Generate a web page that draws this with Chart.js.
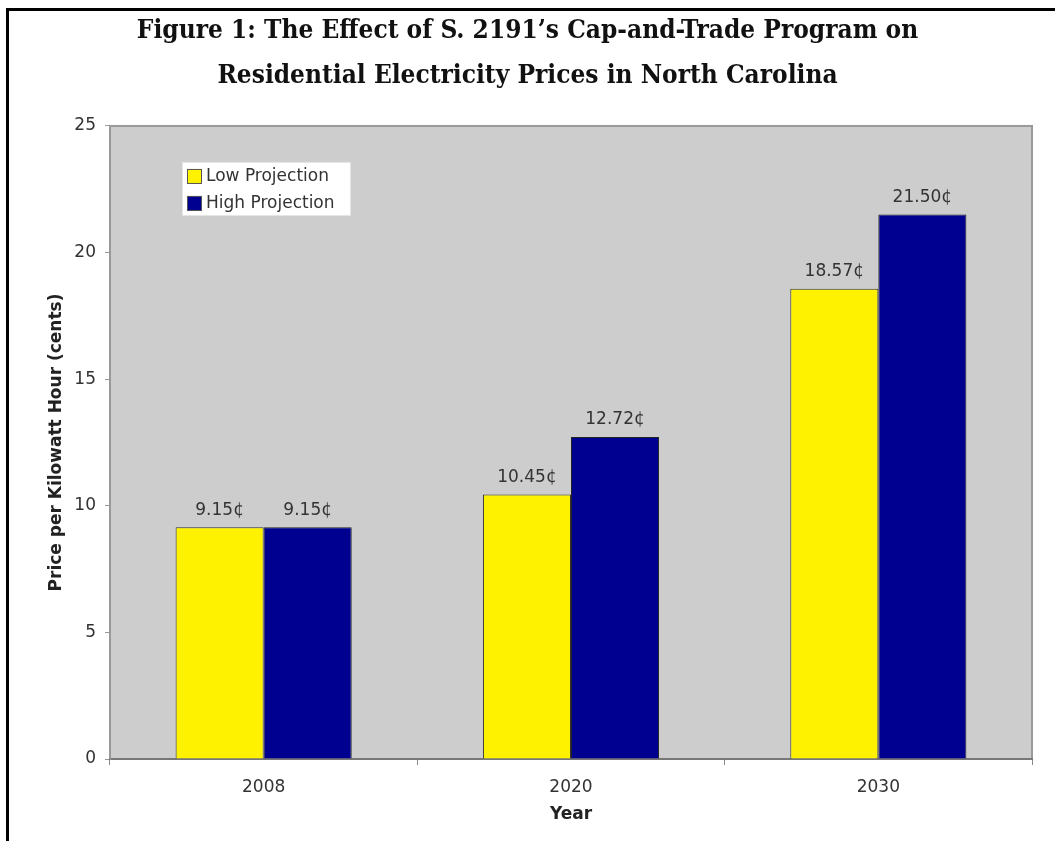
<!DOCTYPE html>
<html><head><meta charset="utf-8">
<script src="https://cdn.jsdelivr.net/npm/chart.js@4.4.0/dist/chart.umd.min.js"></script>
<style>html,body{margin:0;padding:0;background:#fff;}#wrap{width:1055px;height:841px;position:relative;}</style>
</head><body><div id="wrap"><canvas id="c" width="1055" height="841"></canvas></div>
<script>
const titleLines = ["Figure 1: The Effect of S. 2191\u2019s Cap-and-Trade Program on", "Residential Electricity Prices in North Carolina"];
const years = ["2008", "2020", "2030"];
const seriesNames = ["Low Projection", "High Projection"];
const lowProjection = [9.15, 10.45, 18.57];
const highProjection = [9.15, 12.72, 21.50];
const yAxisTitle = "Price per Kilowatt Hour (cents)";
const xAxisTitle = "Year";
const yMin = 0, yMax = 25, yStep = 5;
const unitSuffix = "\u00a2";

const SANS = "'DejaVu Sans', Verdana, sans-serif";
const SERIF = "'DejaVu Serif Condensed', 'Liberation Serif', serif";

const framePlugin = {
  id: 'frame',
  beforeDraw(chart) {
    const ctx = chart.ctx, a = chart.chartArea;
    ctx.save();
    ctx.fillStyle = '#fff';
    ctx.fillRect(0, 0, chart.width, chart.height);
    ctx.fillStyle = '#000';
    ctx.fillRect(6, 8, chart.width - 6, 3);
    ctx.fillRect(6, 8, 3, chart.height - 8);
    ctx.fillStyle = '#cdcdcd';
    ctx.fillRect(a.left, a.top, a.right - a.left, a.bottom - a.top);
    ctx.strokeStyle = '#9a9a9a';
    ctx.lineWidth = 2;
    ctx.strokeRect(a.left, a.top, a.right - a.left, a.bottom - a.top);
    ctx.restore();
  }
};

const labelPlugin = {
  id: 'barLabels',
  afterDatasetsDraw(chart) {
    const ctx = chart.ctx;
    ctx.save();
    ctx.font = "17px " + SANS;
    ctx.fillStyle = '#333';
    ctx.textAlign = 'center';
    ctx.textBaseline = 'middle';
    chart.data.datasets.forEach((ds, i) => {
      chart.getDatasetMeta(i).data.forEach((el, j) => {
        ctx.fillText(ds.data[j].toFixed(2) + unitSuffix, el.x, el.y - 17);
      });
    });
    ctx.restore();
  }
};

const legendPlugin = {
  id: 'boxLegend',
  afterDraw(chart) {
    const ctx = chart.ctx, a = chart.chartArea;
    const x = a.left + 72, y = a.top + 36, w = 169, h = 54;
    ctx.save();
    ctx.fillStyle = '#fff';
    ctx.fillRect(x, y, w, h);
    ctx.strokeStyle = '#e4e4e4';
    ctx.lineWidth = 1;
    ctx.strokeRect(x + 0.5, y + 0.5, w - 1, h - 1);
    ctx.font = "17px " + SANS;
    ctx.textBaseline = 'middle';
    ctx.textAlign = 'left';
    chart.data.datasets.forEach((ds, i) => {
      const cy = y + 14 + i * 27;
      ctx.fillStyle = ds.backgroundColor;
      ctx.fillRect(x + 5, cy - 7, 15, 15);
      ctx.strokeStyle = '#555';
      ctx.strokeRect(x + 5.5, cy - 6.5, 14, 14);
      ctx.fillStyle = '#333';
      ctx.fillText(ds.label, x + 24, cy + 1);
    });
    ctx.restore();
  }
};

new Chart(document.getElementById('c'), {
  type: 'bar',
  data: {
    labels: years,
    datasets: [
      { label: seriesNames[0], data: lowProjection, backgroundColor: '#fff200', borderColor: '#333', borderWidth: 1, yAxisID: 'y' },
      { label: seriesNames[1], data: highProjection, backgroundColor: '#000090', borderColor: '#222', borderWidth: 1, yAxisID: 'y' }
    ]
  },
  options: {
    responsive: false,
    animation: false,
    devicePixelRatio: 1,
    layout: { padding: { left: 0, right: 0, top: 0, bottom: 0 } },
    datasets: { bar: { categoryPercentage: 0.573, barPercentage: 1.0 } },
    plugins: {
      legend: { display: false },
      tooltip: { enabled: false },
      title: {
        display: true,
        text: titleLines,
        color: '#111',
        font: { family: SERIF, size: 26, weight: 'bold', lineHeight: 1.73 },
        padding: { top: 9, bottom: 27 }
      }
    },
    scales: {
      x: {
        offset: true,
        grid: { offset: true, drawOnChartArea: false, tickLength: 6, color: '#888' },
        border: { color: '#777', width: 2 },
        ticks: { color: '#333', font: { family: SANS, size: 17 }, padding: 12 },
        title: { display: true, text: xAxisTitle, color: '#222', font: { family: SANS, size: 17, weight: 'bold' }, padding: { top: 0, bottom: 16 } },
        afterFit(s) { s.height = 82; }
      },
      y: {
        min: yMin, max: yMax,
        ticks: { stepSize: yStep, color: '#333', font: { family: SANS, size: 17 }, padding: 9 },
        grid: { drawOnChartArea: false, tickLength: 5, color: '#999' },
        border: { color: '#999', width: 1 },
        title: { display: true, text: yAxisTitle, color: '#222', font: { family: SANS, size: 17, weight: 'bold' }, padding: { top: 46, bottom: 0 } },
        afterFit(s) { s.width = 110; }
      },
      yRight: {
        position: 'right',
        min: yMin, max: yMax,
        grid: { display: false },
        border: { display: false },
        ticks: { display: false },
        afterFit(s) { s.width = 23; }
      }
    }
  },
  plugins: [framePlugin, labelPlugin, legendPlugin]
});
</script></body></html>
